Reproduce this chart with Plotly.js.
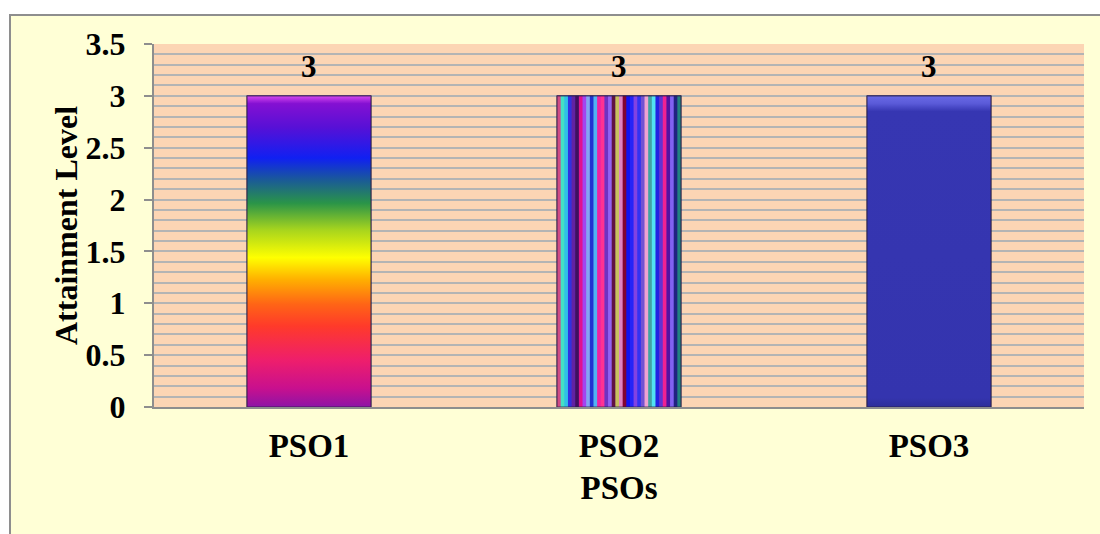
<!DOCTYPE html>
<html>
<head>
<meta charset="utf-8">
<script src="https://cdn.plot.ly/plotly-3.0.1.min.js"></script>
<style>
  html, body { margin: 0; padding: 0; background: #ffffff; }
  #wrap { position: relative; width: 1100px; height: 534px; overflow: hidden; }
  #frame { position: absolute; left: 9px; top: 14px; width: 1200px; height: 600px;
           background: #FFFFD6; border: 2px solid #8E8E8E; box-sizing: border-box; }
  #chart { position: absolute; left: 0; top: 0; width: 1100px; height: 534px; }
</style>
</head>
<body>
<div id="wrap">
  <div id="frame"></div>
  <div id="chart"></div>
</div>
<script>
// ---- data ----
const categories = ["PSO1", "PSO2", "PSO3"];
const attainment = [3, 3, 3];
const yTickVals = [0, 0.5, 1, 1.5, 2, 2.5, 3, 3.5];
const yTickText = ["0", "0.5", "1", "1.5", "2", "2.5", "3", "3.5"];

// ---- style ----
const FONT = "Liberation Serif, Times New Roman, serif";
const BAR_W = 0.4;
const xIdx = categories.map((c, i) => i);

// rainbow (bottom -> top) for PSO1
const rainbow = [
  [0.00, "#8E14A6"], [0.06, "#C8108E"], [0.15, "#EE1E6C"], [0.26, "#FF3A2A"],
  [0.33, "#FF6416"], [0.41, "#FFB000"], [0.48, "#FFFF00"], [0.57, "#A6D41E"],
  [0.655, "#2A9448"], [0.73, "#1A5A98"], [0.80, "#1020F2"], [0.90, "#5810D6"],
  [0.975, "#8410D2"], [1.00, "#D848F0"]
];

// vertical stripes (left -> right) for PSO2
const stripeColors = [
  "#D04A86", "#44E0C4", "#30C0E6", "#3030E0", "#6222A2", "#3E1060", "#E01090",
  "#A244F0", "#84A4F2", "#2232D2", "#52B2F2", "#F022A2", "#FF3292", "#7032C2",
  "#9262F2", "#601242", "#C8C060", "#E082C2", "#820432", "#1212F2", "#2424F8",
  "#8242E2", "#3232F2", "#7252D2", "#F0A2D2", "#42A2A2", "#52E2F2", "#2222E2",
  "#6232D2", "#F02292", "#5212A2", "#8262F2", "#222282", "#228282"
];
const stripes = [];
stripeColors.forEach((c, i) => {
  const a = i / stripeColors.length;
  const b = (i + 1) / stripeColors.length;
  stripes.push([a + (i ? 0.004 : 0), c]);
  stripes.push([b - 0.004, c]);
});
stripes[stripes.length - 1][0] = 1;

// solid blue with light top bevel for PSO3
const blueBevel = [[0, "#2E2E9A"], [0.03, "#3434AE"], [0.95, "#3636B2"], [0.975, "#5A5AD8"], [1, "#6A6AE6"]];

const barColors = ["#8A12C0", "#6030D0", "#3434AE"];

const traces = [{
  type: "bar",
  x: xIdx,
  y: attainment,
  width: BAR_W,
  marker: { color: barColors, line: { color: "rgba(40,30,70,0.7)", width: 1 } },
  hoverinfo: "skip",
  showlegend: false
}];

// gradient overlays, built from the same values
const gradients = [
  { type: "vertical", colorscale: rainbow },
  { type: "horizontal", colorscale: stripes },
  { type: "vertical", colorscale: blueBevel }
];
attainment.forEach((v, i) => {
  const x0 = xIdx[i] - BAR_W / 2, x1 = xIdx[i] + BAR_W / 2;
  traces.push({
    type: "scatter",
    mode: "lines",
    x: [x0, x0, x1, x1, x0],
    y: [0, v, v, 0, 0],
    fill: "toself",
    fillgradient: gradients[i],
    line: { color: "rgba(40,30,70,0.75)", width: 1.2 },
    hoverinfo: "skip",
    showlegend: false
  });
});

const annotations = attainment.map((v, i) => ({
  x: xIdx[i], y: v, xref: "x", yref: "y",
  text: String(v), showarrow: false,
  yanchor: "bottom", yshift: 10,
  font: { family: FONT, size: 31, color: "#000", weight: "bold" }
}));

const layout = {
  width: 1100, height: 534,
  margin: { l: 154, r: 16, t: 44, b: 127 },
  paper_bgcolor: "rgba(0,0,0,0)",
  plot_bgcolor: "#FCD5B4",
  font: { family: FONT, color: "#000" },
  showlegend: false,
  bargap: 0.6,
  xaxis: {
    range: [-0.5, 2.5],
    tickvals: xIdx, ticktext: categories,
    showgrid: false, zeroline: false,
    showline: true, linecolor: "#8E8E8E", linewidth: 2,
    ticks: "",
    ticklabelstandoff: 8,
    automargin: true,
    tickfont: { family: FONT, size: 33, color: "#000", weight: "bold" },
    title: { text: "PSOs", standoff: 13, font: { family: FONT, size: 33, color: "#000", weight: "bold" } },
    fixedrange: true
  },
  yaxis: {
    range: [0, 3.5],
    tickvals: yTickVals, ticktext: yTickText,
    ticks: "outside", ticklen: 8, tickwidth: 2, tickcolor: "#8E8E8E",
    showline: true, linecolor: "#8E8E8E", linewidth: 2,
    zeroline: false,
    showgrid: true, gridcolor: "#B4B4B4", gridwidth: 2,
    minor: { dtick: 0.1, showgrid: true, gridcolor: "#B4B4B4", gridwidth: 2, ticks: "" },
    ticklabelstandoff: 12,
    tickfont: { family: FONT, size: 32, color: "#000", weight: "bold" },
    title: { text: "Attainment Level", font: { family: FONT, size: 32, color: "#000", weight: "bold" } },
    fixedrange: true
  },
  annotations: annotations
};

Plotly.newPlot("chart", traces, layout, { displayModeBar: false, staticPlot: true });
</script>
</body>
</html>
